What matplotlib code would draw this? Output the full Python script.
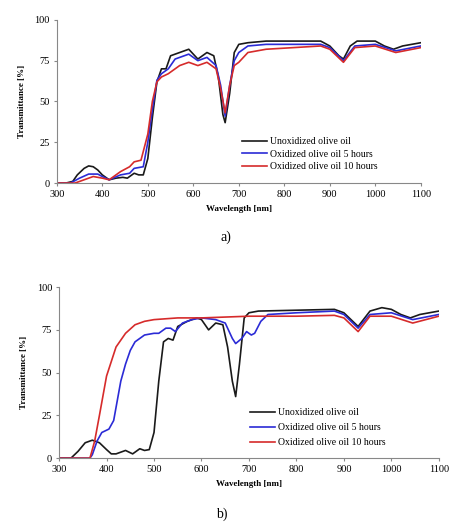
import matplotlib.pyplot as plt

plt.rcParams['font.family'] = ['Liberation Serif', 'DejaVu Serif']

# panel a) spectra
wl_a_black = [300, 320, 335, 345, 360, 370, 380, 390, 400, 415, 430, 445, 455, 470, 480, 490, 500,
              510, 520, 530, 540, 550, 570, 590, 610, 630, 645, 655, 665, 670, 680, 690, 700, 720,
              760, 880, 900, 920, 930, 945, 960, 1000, 1020, 1040, 1060, 1100]
t_a_black = [0, 0, 1, 5, 9, 10.5, 10, 8, 5, 2, 3, 3.5, 3, 6, 5, 5, 15,
             40, 62, 70, 70, 78, 80, 82, 76, 80, 78, 65, 42, 37, 55, 80, 85, 86,
             87, 87, 84, 78, 76, 84, 87, 87, 84, 82, 84, 86]
wl_a_blue = [300, 330, 350, 370, 390, 400, 415, 440, 460, 470, 490, 500, 510, 520, 530, 545, 560,
             590, 610, 630, 650, 660, 670, 680, 690, 700, 720, 760, 880, 900, 930, 955, 1000,
             1045, 1100]
t_a_blue = [0, 0, 3, 5.5, 5.5, 4, 2, 5, 6, 9, 10, 25, 45, 63, 67, 70, 76,
            79, 75, 77, 72, 60, 41, 60, 75, 80, 84, 85, 85, 83, 75, 84, 85,
            81, 84]
wl_a_red = [300, 340, 360, 380, 400, 415, 440, 460, 470, 485, 500, 510, 520, 530, 545, 570,
            590, 610, 630, 650, 660, 670, 680, 690, 700, 720, 760, 880, 900, 930, 955, 1000,
            1045, 1100]
t_a_red = [0, 0, 2, 4, 3, 2, 7, 10, 13, 14, 30, 50, 62, 65, 67, 72,
           74, 72, 74, 70, 58, 43, 60, 72, 74, 80, 82, 84, 82, 74, 83, 84,
           80, 83]

# panel b) spectra
wl_b_black = [300, 325, 340, 355, 370, 385, 400, 410, 420, 440, 455, 470, 480, 490, 500, 510,
              520, 530, 540, 550, 570, 590, 600, 615, 630, 645, 655, 665, 672, 680, 690, 700,
              720, 880, 900, 930, 955, 980, 1000, 1020, 1040, 1060, 1100]
t_b_black = [0, 0, 4, 9, 10.5, 9, 5, 2.5, 2.5, 4.5, 2.5, 5.5, 4.5, 5, 15, 45,
             68, 70, 69, 77, 80, 82, 81, 75, 79, 78, 65, 45, 36, 55, 82, 85,
             86, 87, 85, 77, 86, 88, 87, 84, 82, 84, 86]
wl_b_blue = [300, 365, 370, 380, 390, 405, 415, 430, 440, 450, 460, 480, 500, 510, 525, 535,
             545, 560, 580, 600, 630, 650, 665, 672, 685, 695, 705, 712, 725, 740, 800, 880,
             900, 930, 955, 1000, 1045, 1100]
t_b_blue = [0, 0, 2, 10, 15, 17, 22, 45, 55, 63, 68, 72, 73, 73, 76, 76,
            74, 79, 81, 82, 81, 79, 70, 67, 70, 74, 72, 73, 80, 84, 85, 86,
            84, 76, 84, 85, 81, 84]
wl_b_red = [300, 365, 375, 385, 400, 420, 440, 460, 480, 500, 550, 600, 700, 800, 880, 900,
            930, 955, 1000, 1045, 1100]
t_b_red = [0, 0, 10, 25, 48, 65, 73, 78, 80, 81, 82, 82, 83, 83, 83.5, 82,
           74, 83, 83, 79, 83]

labels = ['Unoxidized olive oil', 'Oxidized olive oil 5 hours', 'Oxidized olive oil 10 hours']
colors = ['#1a1a1a', '#2b2bd6', '#d62b2b']


def style(ax, leg_anchor, spacing):
    ax.set_xlim(300, 1100)
    ax.set_ylim(0, 100)
    ax.set_xticks(range(300, 1101, 100))
    ax.set_yticks([0, 25, 50, 75, 100])
    ax.tick_params(labelsize=7.5, length=2, color='#888888', pad=3)
    for s in ['top', 'right']:
        ax.spines[s].set_visible(False)
    for s in ['left', 'bottom']:
        ax.spines[s].set_color('#888888')
        ax.spines[s].set_linewidth(0.8)
    ax.set_xlabel('Wavelength [nm]', fontsize=6.5, fontweight='bold', labelpad=4)
    ax.set_ylabel('Transmittance [%]', fontsize=6.5, fontweight='bold', labelpad=6)
    ax.legend(loc='upper left', bbox_to_anchor=leg_anchor, frameon=False, fontsize=7,
              handlelength=2.6, handletextpad=0.3, labelspacing=spacing, borderpad=0)


fig = plt.figure(figsize=(4.51, 5.23), dpi=100)

ax1 = fig.add_axes([0.126, 0.650, 0.807, 0.312])
ax1.plot(wl_a_black, t_a_black, color=colors[0], lw=1.2, label=labels[0])
ax1.plot(wl_a_blue, t_a_blue, color=colors[1], lw=1.2, label=labels[1])
ax1.plot(wl_a_red, t_a_red, color=colors[2], lw=1.2, label=labels[2])
style(ax1, (0.495, 0.31), 0.35)

ax2 = fig.add_axes([0.131, 0.124, 0.842, 0.327])
ax2.plot(wl_b_black, t_b_black, color=colors[0], lw=1.2, label=labels[0])
ax2.plot(wl_b_blue, t_b_blue, color=colors[1], lw=1.2, label=labels[1])
ax2.plot(wl_b_red, t_b_red, color=colors[2], lw=1.2, label=labels[2])
style(ax2, (0.49, 0.32), 0.6)

fig.text(0.5, 1 - 237 / 523, 'a)', ha='center', va='center', fontsize=10)
fig.text(0.492, 1 - 514 / 523, 'b)', ha='center', va='center', fontsize=10)

fig.savefig('out.png', dpi=100)
